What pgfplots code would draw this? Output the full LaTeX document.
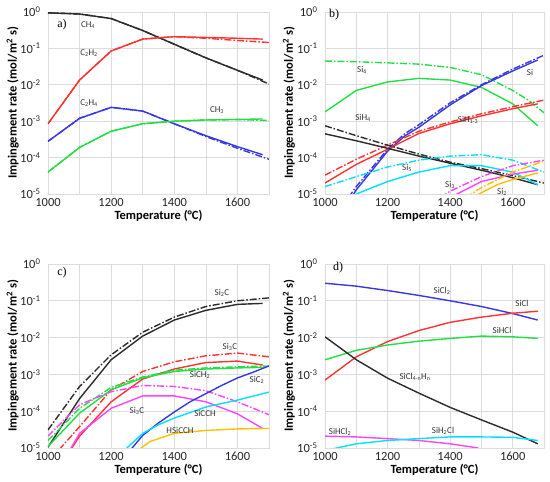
\documentclass[border=0pt]{standalone}
\usepackage{fontspec}
\setmainfont{Carlito}
\newfontfamily\serifpanel{Liberation Serif}
\usepackage{pgfplots}
\pgfplotsset{compat=1.18}
\definecolor{cblack}{HTML}{2B2B2B}
\definecolor{cred}{HTML}{FF3333}
\definecolor{cblue}{HTML}{3838E0}
\definecolor{cgreen}{HTML}{22E044}
\definecolor{ccyan}{HTML}{00E0FF}
\definecolor{cmag}{HTML}{FF44FF}
\definecolor{corange}{HTML}{FFC000}
\definecolor{cgrid}{HTML}{DCDCDC}
\pgfplotsset{
  every axis/.append style={
    scale only axis,
    xmin=1000, xmax=1700, ymin=1e-5, ymax=1,
    xtick={1000,1200,1400,1600}, minor xtick={1100,1300,1500,1700},
    ytick={1e-5,1e-4,1e-3,1e-2,1e-1,1}, minor ytick={},
    yticklabels={10\textsuperscript{-5},10\textsuperscript{-4},10\textsuperscript{-3},10\textsuperscript{-2},10\textsuperscript{-1},10\textsuperscript{0}},
    xticklabels={1000,1200,1400,1600},
    xmajorgrids, xminorgrids, ymajorgrids, yminorgrids=false,
    major grid style={cgrid, line width=0.6pt}, minor grid style={cgrid, line width=0.6pt},
    axis line style={cgrid, line width=0.6pt},
    major tick length=0pt, minor tick length=0pt,
    tick label style={font=\fontsize{12.5}{13}\selectfont, text=black!85},
    yticklabel style={xshift=-4pt},
    xticklabel style={yshift=-1pt},
    xlabel={\bfseries Temperature (°C)},
    ylabel={\bfseries Impingement rate (mol/m\textsuperscript{2} s)},
    label style={font=\fontsize{12.5}{13}\selectfont\bfseries},
    xlabel style={at={(axis description cs:0.5,-0.12)},anchor=center},
    ylabel style={at={(axis description cs:-0.16,0.5)},anchor=center},
  },
  every axis plot/.append style={line width=1.4pt, no marks},
}
\tikzset{lab/.style={font=\fontsize{9}{10}\selectfont, text=black!80},
  dd/.style={dash pattern=on 7pt off 2pt on 1.5pt off 2pt}}
\begin{document}
\begin{tikzpicture}[x=1pt,y=1pt]
\useasboundingbox (0,0) rectangle (550,482);
% ---------- a ----------
\begin{semilogyaxis}[at={(48pt,288pt)}, width=221pt, height=182pt]
\addplot[cblack,dd] coordinates {(1000,0.95)(1100,0.88)(1200,0.66)(1300,0.31)(1400,0.13)(1500,0.055)(1600,0.025)(1700,0.0105)};
\addplot[cblack] coordinates {(1000,0.95)(1100,0.88)(1200,0.66)(1300,0.31)(1400,0.13)(1500,0.055)(1600,0.025)(1680,0.0135)};
\addplot[cred,dd] coordinates {(1000,8.5e-4)(1100,0.0135)(1200,0.085)(1300,0.18)(1400,0.21)(1500,0.19)(1600,0.165)(1700,0.145)};
\addplot[cred] coordinates {(1000,8.5e-4)(1100,0.0135)(1200,0.085)(1300,0.18)(1400,0.21)(1500,0.2)(1600,0.19)(1680,0.18)};
\addplot[cblue,dd] coordinates {(1000,2.8e-4)(1100,1.2e-3)(1200,2.4e-3)(1300,1.9e-3)(1400,8.5e-4)(1500,3.8e-4)(1600,1.8e-4)(1700,9e-5)};
\addplot[cblue] coordinates {(1000,2.8e-4)(1100,1.2e-3)(1200,2.4e-3)(1300,1.9e-3)(1400,8.5e-4)(1500,4e-4)(1600,2e-4)(1680,1.2e-4)};
\addplot[cgreen,dd] coordinates {(1000,4e-5)(1100,1.9e-4)(1200,5.3e-4)(1300,8.5e-4)(1400,1e-3)(1500,1.08e-3)(1600,1.1e-3)(1700,1.05e-3)};
\addplot[cgreen] coordinates {(1000,4e-5)(1100,1.9e-4)(1200,5.3e-4)(1300,8.5e-4)(1400,1e-3)(1500,1.08e-3)(1600,1.12e-3)(1680,1.15e-3)};
\end{semilogyaxis}
% ---------- b ----------
\begin{semilogyaxis}[at={(325pt,288pt)}, width=219pt, height=182pt, ylabel style={at={(axis description cs:-0.165,0.5)}}]
\addplot[cgreen,dd] coordinates {(1000,0.045)(1100,0.043)(1200,0.04)(1300,0.037)(1400,0.03)(1500,0.019)(1600,7e-3)(1650,3.8e-3)(1700,1.7e-3)};
\addplot[cgreen] coordinates {(1000,1.8e-3)(1100,7e-3)(1200,0.012)(1300,0.015)(1400,0.0135)(1500,8.5e-3)(1600,3e-3)(1680,7.5e-4)};
\addplot[cblue,dd] coordinates {(1075,8e-6)(1100,1.6e-5)(1200,1.7e-4)(1256,4.6e-4)(1300,8e-4)(1400,3.2e-3)(1500,1e-2)(1600,0.027)(1700,0.065)};
\addplot[cblue] coordinates {(1085,8e-6)(1100,1.3e-5)(1200,1.5e-4)(1256,4e-4)(1300,6.8e-4)(1400,2.8e-3)(1500,9.5e-3)(1600,0.024)(1680,0.048)};
\addplot[cred,dd] coordinates {(1000,3.3e-5)(1100,9e-5)(1200,2.2e-4)(1300,5.3e-4)(1400,9.5e-4)(1500,1.6e-3)(1600,2.5e-3)(1700,3.8e-3)};
\addplot[cred] coordinates {(1000,2e-5)(1100,6.5e-5)(1200,1.7e-4)(1300,4.6e-4)(1400,8.5e-4)(1500,1.4e-3)(1600,2.2e-3)(1680,3e-3)};
\addplot[cblack,dd] coordinates {(1000,7.5e-4)(1100,4e-4)(1200,2.2e-4)(1300,1.25e-4)(1400,7.5e-5)(1500,5e-5)(1600,3.2e-5)(1700,2e-5)};
\addplot[cblack] coordinates {(1000,4.5e-4)(1100,2.9e-4)(1200,1.8e-4)(1300,1.1e-4)(1400,7e-5)(1500,4.5e-5)(1600,2.8e-5)(1680,1.8e-5)};
\addplot[ccyan,dd] coordinates {(1000,1.6e-5)(1100,3e-5)(1200,5.5e-5)(1300,8.5e-5)(1400,1.1e-4)(1500,1.2e-4)(1600,8.5e-5)(1700,4e-5)};
\addplot[ccyan] coordinates {(1090,8e-6)(1100,1e-5)(1200,2.2e-5)(1300,4e-5)(1400,6e-5)(1500,6e-5)(1600,4e-5)(1680,1.8e-5)};
\addplot[cmag,dd] coordinates {(1370,8e-6)(1400,1.2e-5)(1500,3e-5)(1600,6e-5)(1700,8.5e-5)};
\addplot[cmag] coordinates {(1400,8e-6)(1500,2.2e-5)(1600,3.5e-5)(1680,4.5e-5)};
\addplot[corange,dd] coordinates {(1450,8e-6)(1500,1.5e-5)(1600,4e-5)(1700,8e-5)};
\addplot[corange] coordinates {(1470,8e-6)(1550,1.8e-5)(1600,2.5e-5)(1680,3.8e-5)};
\end{semilogyaxis}
% ---------- c ----------
\begin{semilogyaxis}[at={(48pt,34pt)}, width=221pt, height=184pt]
\addplot[cblack,dd] coordinates {(1000,3.1e-5)(1100,4.7e-4)(1200,3.4e-3)(1300,0.014)(1400,0.036)(1500,0.07)(1600,0.1)(1700,0.12)};
\addplot[cblack] coordinates {(1000,1.05e-5)(1100,2.2e-4)(1200,2.5e-3)(1300,0.011)(1400,0.03)(1500,0.055)(1600,0.08)(1680,0.085)};
\addplot[cred,dd] coordinates {(1035,9e-6)(1100,3.8e-5)(1200,3.8e-4)(1300,1.2e-3)(1400,2.2e-3)(1500,3.2e-3)(1600,3.8e-3)(1700,3e-3)};
\addplot[cred] coordinates {(1072,9e-6)(1100,2.1e-5)(1200,1.8e-4)(1300,7.5e-4)(1400,1.4e-3)(1500,2.1e-3)(1600,2.3e-3)(1680,1.8e-3)};
\addplot[cgreen,dd] coordinates {(1000,1.6e-5)(1100,1.2e-4)(1200,4.4e-4)(1300,8.5e-4)(1400,1.3e-3)(1500,1.5e-3)(1600,1.6e-3)(1700,1.7e-3)};
\addplot[cgreen] coordinates {(1000,1.1e-5)(1100,8.8e-5)(1200,3.8e-4)(1300,8.1e-4)(1400,1.2e-3)(1500,1.4e-3)(1600,1.5e-3)(1680,1.55e-3)};
\addplot[cmag,dd] coordinates {(1000,2.1e-5)(1100,1.5e-4)(1200,3.4e-4)(1300,5e-4)(1400,4.7e-4)(1500,3.6e-4)(1600,1.8e-4)(1700,8e-5)};
\addplot[cmag] coordinates {(1070,9e-6)(1100,2.5e-5)(1200,1.2e-4)(1300,2.6e-4)(1400,2.6e-4)(1500,1.8e-4)(1600,8.5e-5)(1680,3.4e-5)};
\addplot[cblue] coordinates {(1262,9e-6)(1300,2.2e-5)(1350,4.8e-5)(1400,9.5e-5)(1450,1.8e-4)(1500,3e-4)(1550,5e-4)(1600,8e-4)(1650,1.15e-3)(1700,1.7e-3)};
\addplot[ccyan] coordinates {(1244,9e-6)(1300,2.5e-5)(1350,4.3e-5)(1400,6.5e-5)(1500,1.3e-4)(1600,2e-4)(1700,3.3e-4)};
\addplot[corange] coordinates {(1288,9e-6)(1323,1.5e-5)(1400,2.5e-5)(1500,3e-5)(1600,3.3e-5)(1700,3.4e-5)};
\end{semilogyaxis}
% ---------- d ----------
\begin{semilogyaxis}[at={(325pt,34pt)}, width=219pt, height=184pt, ylabel style={at={(axis description cs:-0.165,0.5)}}]
\addplot[cblue] coordinates {(1000,0.3)(1100,0.25)(1200,0.19)(1300,0.14)(1400,0.1)(1500,0.07)(1600,0.045)(1680,0.03)};
\addplot[cred] coordinates {(1000,7e-4)(1100,3e-3)(1200,7.8e-3)(1300,0.0155)(1400,0.026)(1500,0.036)(1600,0.046)(1680,0.052)};
\addplot[cgreen] coordinates {(1000,2.5e-3)(1100,4.5e-3)(1200,6.3e-3)(1300,8e-3)(1400,9.5e-3)(1500,0.011)(1600,0.0105)(1680,9.5e-3)};
\addplot[cblack] coordinates {(1000,0.0105)(1100,2.5e-3)(1200,7.9e-4)(1300,3.1e-4)(1400,1.27e-4)(1500,5.8e-5)(1600,2.7e-5)(1680,1.3e-5)};
\addplot[cmag] coordinates {(1000,2.1e-5)(1100,2e-5)(1200,1.8e-5)(1300,1.6e-5)(1400,1.3e-5)(1490,1e-5)};
\addplot[ccyan] coordinates {(1025,9.5e-6)(1100,1.3e-5)(1200,1.6e-5)(1300,1.8e-5)(1400,2e-5)(1500,2e-5)(1600,1.95e-5)(1680,1.6e-5)};
\end{semilogyaxis}
% ---------- labels ----------
\node[font=\serifpanel\fontsize{12}{13}\selectfont] at (62,482-25) {a)};
\node[font=\serifpanel\fontsize{12}{13}\selectfont] at (334,482-15) {b)};
\node[font=\serifpanel\fontsize{12}{13}\selectfont] at (62,482-273) {c)};
\node[font=\serifpanel\fontsize{12}{13}\selectfont] at (338,482-268) {d)};
\node[lab] at (88,482-25) {CH\textsubscript{4}};
\node[lab] at (89,482-53) {C\textsubscript{2}H\textsubscript{2}};
\node[lab] at (89,482-103) {C\textsubscript{2}H\textsubscript{4}};
\node[lab] at (217,482-110) {CH\textsubscript{3}};
\node[lab] at (362,482-70) {Si\textsubscript{6}};
\node[lab] at (530,482-72) {Si};
\node[lab] at (363,482-118) {SiH\textsubscript{4}};
\node[lab] at (468,482-120) {SiH\textsubscript{1-3}};
\node[lab] at (407,482-168) {Si\textsubscript{5}};
\node[lab] at (450,482-185) {Si\textsubscript{3}};
\node[lab] at (502,482-192) {Si\textsubscript{2}};
\node[lab] at (222,482-293) {Si\textsubscript{2}C};
\node[lab] at (230,482-347) {Si\textsubscript{3}C};
\node[lab] at (200,482-375) {SiCH\textsubscript{2}};
\node[lab] at (257,482-380) {SiC\textsubscript{2}};
\node[lab] at (137,482-411) {Si\textsubscript{3}C};
\node[lab] at (205,482-413) {SiCCH};
\node[lab] at (180,482-430) {HSiCCH};
\node[lab] at (442,482-291) {SiCl\textsubscript{2}};
\node[lab] at (522,482-303) {SiCl};
\node[lab] at (502,482-330) {SiHCl};
\node[lab] at (415,482-377) {SiCl\textsubscript{4-n}H\textsubscript{n}};
\node[lab] at (340,482-432) {SiHCl\textsubscript{2}};
\node[lab] at (443,482-431) {SiH\textsubscript{2}Cl};
\end{tikzpicture}
\end{document}
